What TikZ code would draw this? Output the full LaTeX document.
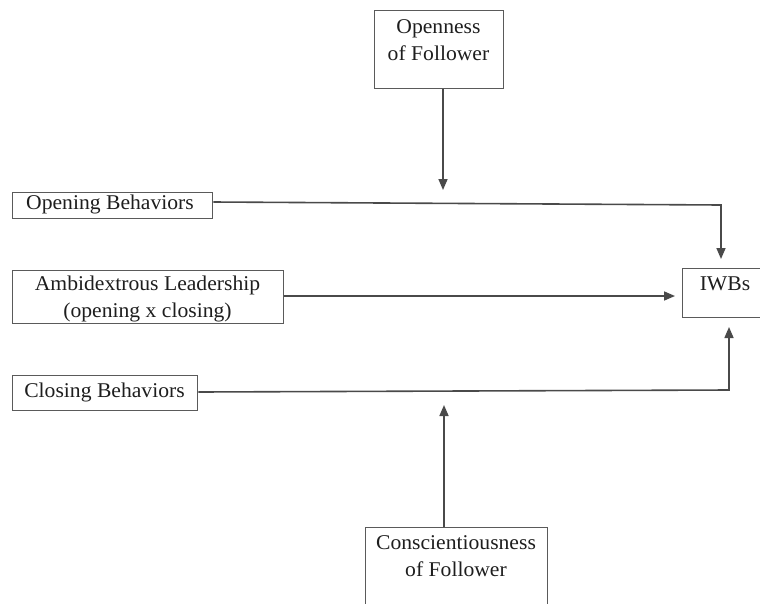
\documentclass[tikz,border=0pt]{standalone}
\usepackage{fontspec}
\setmainfont{Liberation Serif}[FakeStretch=1.03]
\usetikzlibrary{arrows.meta}
\definecolor{linec}{HTML}{4A4A4A}
\definecolor{boxc}{HTML}{5A5A5A}
\definecolor{txtc}{HTML}{1E1E1E}
\tikzset{
  boxnode/.style={draw=boxc, line width=1.4pt, inner sep=0pt, anchor=north west},
  txt/.style={text=txtc, font=\fontsize{21}{27}\selectfont, align=center, inner sep=0pt},
  conn/.style={draw=linec, line width=1.6pt},
  arr/.style={conn, -{Triangle[length=11pt,width=9pt]}}
}
\begin{document}
\begin{tikzpicture}[x=1pt,y=-1pt]
\useasboundingbox[fill=white] (0,0) rectangle (760,603);
\clip (0,0) rectangle (760,603);
% boxes
\node[boxnode, minimum width=129pt, minimum height=78pt] (open) at (374,10) {};
\node[txt] (opent) at (438.5,40.5) {Openness\\of Follower};
\node[boxnode, minimum width=200pt, minimum height=26pt] (opening) at (12,192) {};
\node[txt] (openingt) at (110,204) {Opening Behaviors};
\node[boxnode, minimum width=271pt, minimum height=53pt] (amb) at (12,270) {};
\node[txt] (ambt) at (147.5,299) {Ambidextrous Leadership\\(opening x closing)};
\node[boxnode, minimum width=185pt, minimum height=35pt] (closing) at (12,375) {};
\node[txt] (closingt) at (104.5,392) {Closing Behaviors};
\node[boxnode, minimum width=88pt, minimum height=49pt] (iwb) at (682,268) {};
\node[txt] (iwbt) at (725,284) {IWBs};
\node[boxnode, minimum width=182pt, minimum height=90pt] (consc) at (365,527) {};
\node[txt] (consct) at (456,556.5) {Conscientiousness\\of Follower};
% coordinates
\coordinate (c1) at (443,190);
\coordinate (c2) at (721,205);
\coordinate (c3) at (721,259);
\coordinate (c4) at (675,296);
\coordinate (c5) at (729,390);
\coordinate (c6) at (729,327);
\coordinate (c7) at (444,405);
% connectors
\draw[arr] (open.south -| c1) -- (c1);
\draw[arr] (opening.east |- 0,202) -- (c2) -- (c3);
\draw[arr] (amb.east |- c4) -- (c4);
\draw[arr] (closing.east |- 0,392) -- (c5) -- (c6);
\draw[arr] (consc.north -| c7) -- (c7);
\end{tikzpicture}
\end{document}
